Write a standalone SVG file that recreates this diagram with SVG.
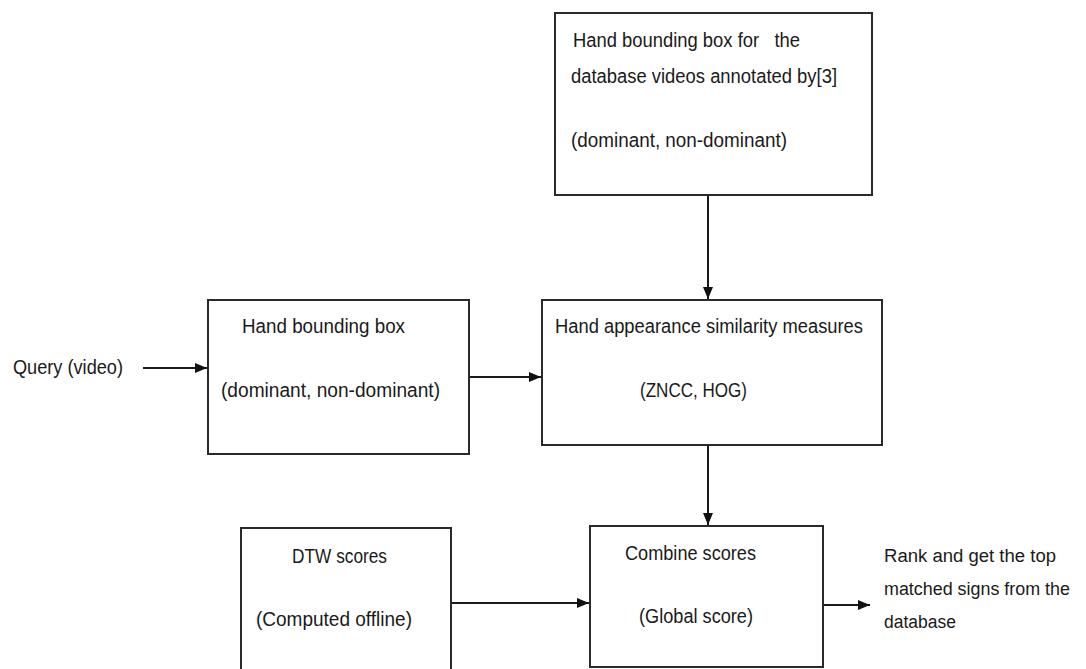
<svg xmlns="http://www.w3.org/2000/svg" width="1086" height="669" viewBox="0 0 1086 669">
<style>
.box{fill:#ffffff;stroke:#2a2a2a;stroke-width:2}
.t{font-family:"Liberation Sans",Arial,sans-serif;font-size:20px;fill:#1a1a1a;white-space:pre}
.r{font-size:18px}
.c{stroke:#1a1a1a;stroke-width:2;fill:none}
</style>
<defs>
<marker id="ah" viewBox="0 0 12 10" refX="12" refY="5" markerWidth="12" markerHeight="10" markerUnits="userSpaceOnUse" orient="auto">
<path d="M0,0 L12,5 L0,10 Z" fill="#111"/>
</marker>
</defs>
<rect width="1086" height="669" fill="#ffffff"/>
<g id="connectors">
<line class="c" x1="143" y1="368" x2="207" y2="368" marker-end="url(#ah)"/>
<line class="c" x1="469" y1="377" x2="541" y2="377" marker-end="url(#ah)"/>
<line class="c" x1="708" y1="195" x2="708" y2="299" marker-end="url(#ah)"/>
<line class="c" x1="708" y1="445" x2="708" y2="525" marker-end="url(#ah)"/>
<line class="c" x1="451" y1="603" x2="589" y2="603" marker-end="url(#ah)"/>
<line class="c" x1="823" y1="605" x2="870" y2="605" marker-end="url(#ah)"/>
</g>
<g id="query">
<text class="t" x="13" y="374" textLength="110" lengthAdjust="spacingAndGlyphs">Query (video)</text>
</g>
<g id="db-box">
<rect class="box" x="555" y="13" width="317" height="182"/>
<text class="t" x="573" y="47" textLength="227" lengthAdjust="spacingAndGlyphs" xml:space="preserve">Hand bounding box for   the</text>
<text class="t" x="571" y="83" textLength="266" lengthAdjust="spacingAndGlyphs">database videos annotated by[3]</text>
<text class="t" x="571" y="147" textLength="216" lengthAdjust="spacingAndGlyphs">(dominant, non-dominant)</text>
</g>
<g id="hand-box">
<rect class="box" x="208" y="300" width="261" height="154"/>
<text class="t" x="242" y="333" textLength="163" lengthAdjust="spacingAndGlyphs">Hand bounding box</text>
<text class="t" x="221" y="397" textLength="219" lengthAdjust="spacingAndGlyphs">(dominant, non-dominant)</text>
</g>
<g id="similarity-box">
<rect class="box" x="542" y="300" width="340" height="145"/>
<text class="t" x="555" y="333" textLength="308" lengthAdjust="spacingAndGlyphs">Hand appearance similarity measures</text>
<text class="t" x="640" y="397" textLength="107" lengthAdjust="spacingAndGlyphs">(ZNCC, HOG)</text>
</g>
<g id="dtw-box">
<rect class="box" x="241" y="528" width="210" height="160"/>
<text class="t" x="292" y="563" textLength="95" lengthAdjust="spacingAndGlyphs">DTW scores</text>
<text class="t" x="256" y="626" textLength="156" lengthAdjust="spacingAndGlyphs">(Computed offline)</text>
</g>
<g id="combine-box">
<rect class="box" x="590" y="526" width="233" height="141"/>
<text class="t" x="625" y="560" textLength="131" lengthAdjust="spacingAndGlyphs">Combine scores</text>
<text class="t" x="639" y="623" textLength="114" lengthAdjust="spacingAndGlyphs">(Global score)</text>
</g>
<g id="result">
<text class="t r" x="884" y="562" textLength="172" lengthAdjust="spacingAndGlyphs">Rank and get the top</text>
<text class="t r" x="884" y="595" textLength="186" lengthAdjust="spacingAndGlyphs">matched signs from the</text>
<text class="t r" x="884" y="628" textLength="72" lengthAdjust="spacingAndGlyphs">database</text>
</g>
</svg>
